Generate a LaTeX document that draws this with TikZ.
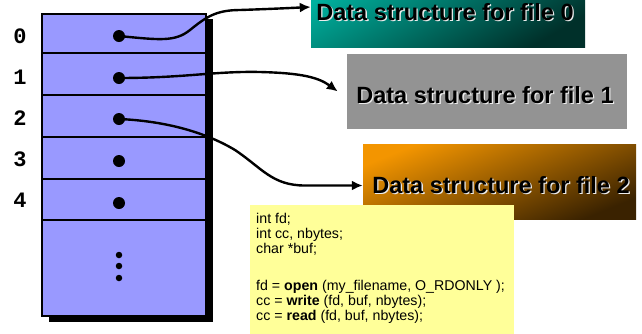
\documentclass[tikz,border=0pt]{standalone}
\usepackage{fontspec}
\setmainfont{Liberation Sans}
\setmonofont{Liberation Mono}
\usetikzlibrary{arrows.meta}
\definecolor{tblue}{HTML}{9999FF}
\definecolor{codey}{HTML}{FFFF99}
\definecolor{gbox}{HTML}{939393}
\definecolor{tealA}{HTML}{00B09E}
\definecolor{tealB}{HTML}{00302A}
\definecolor{orA}{HTML}{F39500}
\definecolor{orB}{HTML}{3A2200}
\begin{document}
\begin{tikzpicture}[x=1pt,y=-1pt,
  bigdot/.style={circle,fill=black,inner sep=0,minimum size=12pt},
  smalldot/.style={circle,fill=black,inner sep=0,minimum size=6.5pt},
  idx/.style={font=\fontsize{22}{22}\selectfont\ttfamily\bfseries,inner sep=0},
  ptr/.style={line width=2.4pt,-{Latex[length=11pt,width=10pt]}},
  dslabel/.style={font=\fontsize{23.5}{23.5}\selectfont\bfseries,inner sep=0},
  dsshadow/.style={dslabel,text=white!85!gray},
  dsbox/.style={rectangle,inner sep=0,minimum width=#1,minimum height=75pt},
  code/.style={font=\fontsize{14.2}{15}\selectfont,inner sep=0,anchor=base west},
]
\useasboundingbox (0,0) rectangle (642,333);
\clip (0,0) rectangle (642,333);

% file table with shadow
\fill[black] (49,19) rectangle (213,322);
\fill[tblue] (42,14) rectangle (206,316);
\draw[line width=1.5pt] (42,14) rectangle (206,316);
\foreach \y in {53,95,137,179,220} \draw[line width=2pt] (42,\y) -- (206,\y);

% indices
\node[idx] (i0) at (20,36) {0};
\node[idx] (i1) at (20,77) {1};
\node[idx] (i2) at (20,118) {2};
\node[idx] (i3) at (20,159) {3};
\node[idx] (i4) at (20,200) {4};

% pointer dots
\node[bigdot] (d0) at (119,36) {};
\node[bigdot] (d1) at (119,78) {};
\node[bigdot] (d2) at (119,119) {};
\node[bigdot] (d3) at (119,161) {};
\node[bigdot] (d4) at (119,203) {};
\node[smalldot] (s1) at (119,255) {};
\node[smalldot] (s2) at (119,266) {};
\node[smalldot] (s3) at (119,278) {};

% data structure boxes
\node[dsbox=274pt, top color=tealA, bottom color=tealB, shading angle=30] (f0) at (448,9.5) {};
\node[dsbox=280pt, fill=gbox] (f1) at (487,91.5) {};
\node[dsbox=273pt, top color=orA, bottom color=orB, shading angle=22] (f2) at (499.5,181.5) {};

\node[dsshadow] (t0s) at (446.3,13.3) {Data structure for file 0};
\node[dslabel] (t0) at (445,12) {Data structure for file 0};
\node[dsshadow] (t1s) at (486.3,96.3) {Data structure for file 1};
\node[dslabel] (t1) at (485,95) {Data structure for file 1};
\node[dsshadow] (t2s) at (502.3,186.3) {Data structure for file 2};
\node[dslabel] (t2) at (501,185) {Data structure for file 2};

% code box
\fill[codey] (250,205) rectangle (514,340);
\node[code] (c1) at (256,223) {int fd;};
\node[code] (c2) at (256,238) {int cc, nbytes;};
\node[code] (c3) at (256,253) {char *buf;};
\node[code] (c4) at (256,290) {fd = \textbf{open} (my\_filename, O\_RDONLY );};
\node[code] (c5) at (256,305) {cc = \textbf{write} (fd, buf, nbytes);};
\node[code] (c6) at (256,320) {cc = \textbf{read} (fd, buf, nbytes);};

% pointers
\draw[ptr] (d0.center) .. controls (160,40) and (175,42) .. (190,30)
  .. controls (205,18) and (215,10) .. (240,10)
  .. controls (270,9) and (290,8) .. ([yshift=2.5pt]f0.west);
\draw[ptr] (d1.center) .. controls (185,78) and (215,71) .. (260,72)
  .. controls (300,73) and (318,77) .. ([xshift=-9pt]f1.west);
\draw[ptr] (d2.center) .. controls (165,121) and (205,132) .. (235,150)
  .. controls (262,168) and (272,185.5) .. (305,185.5) -- ([yshift=-4pt]f2.west);
\end{tikzpicture}
\end{document}
